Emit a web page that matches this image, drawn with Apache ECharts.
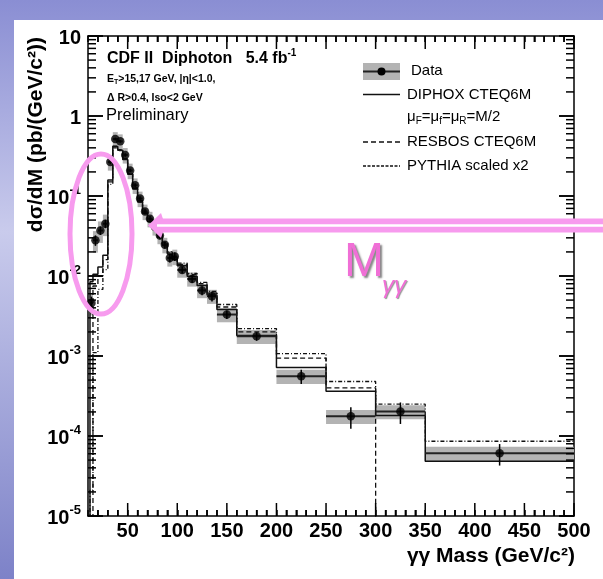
<!DOCTYPE html>
<html>
<head>
<meta charset="utf-8">
<script src="https://cdn.jsdelivr.net/npm/echarts@6/dist/echarts.min.js"></script>
<style>
  html, body { margin: 0; padding: 0; }
  #slide {
    position: relative; width: 603px; height: 579px; overflow: hidden;
    background: linear-gradient(180deg, #8a8ed3 0%, #c9cbec 40%, #7d82c8 100%);
  }
  #panel { position: absolute; left: 14px; top: 20px; right: 0; bottom: 0; background: #fff; }
  #chart { position: absolute; left: 0; top: 0; width: 603px; height: 579px; }
</style>
</head>
<body>
<div id="slide"><div id="panel"></div><div id="chart"></div></div>
<script>
// bin edges (GeV/c^2)
const binEdges = [12, 15, 20, 25, 30, 35, 40, 45, 50, 55, 60, 65, 70, 75, 80, 85, 90, 95, 100,
  110, 120, 130, 140, 160, 200, 250, 300, 350, 500];
// measured dsigma/dM (pb/(GeV/c^2))
const dataVals = [0.0046, 0.028, 0.037, 0.045, 0.266, 0.515, 0.483, 0.326, 0.208, 0.136, 0.093,
  0.064, 0.052, 0.041, 0.032, 0.0246, 0.0168, 0.0175, 0.0119, 0.0092, 0.0066, 0.0056, 0.0033,
  0.00176, 5.6e-4, 1.76e-4, 2.02e-4, 6.1e-5];
// relative statistical and systematic uncertainties
const statErr = [0.2, 0.15, 0.12, 0.12, 0.06, 0.04, 0.04, 0.05, 0.05, 0.06, 0.07, 0.08, 0.08,
  0.09, 0.1, 0.1, 0.12, 0.12, 0.1, 0.11, 0.13, 0.14, 0.12, 0.12, 0.2, 0.3, 0.3, 0.3];
const sysErr = [0.3, 0.3, 0.3, 0.3, 0.22, 0.22, 0.22, 0.22, 0.22, 0.22, 0.22, 0.22, 0.22, 0.22,
  0.22, 0.22, 0.22, 0.22, 0.2, 0.2, 0.2, 0.2, 0.2, 0.2, 0.2, 0.2, 0.2, 0.2];
// predictions
const diphox = [0.0085, 0.0105, 0.013, 0.0182, 0.159, 0.416, 0.374, 0.286, 0.187, 0.122, 0.084,
  0.061, 0.048, 0.039, 0.0305, 0.0241, 0.0188, 0.0161, 0.0134, 0.0099, 0.0076, 0.0058, 0.0038,
  0.0018, 7.2e-4, 3.63e-4, 1.81e-4, 4.85e-5];
const resbos = [0, 0.0075, 0.01, 0.016, 0.15, 0.42, 0.38, 0.29, 0.19, 0.125, 0.087, 0.063, 0.05,
  0.041, 0.032, 0.025, 0.0195, 0.0168, 0.014, 0.0104, 0.008, 0.0061, 0.0041, 0.002, 9.4e-4,
  4.0e-4, 0, 0];
const pythia = [2.1e-5, 0.0011, 0.0068, 0.012, 0.14, 0.40, 0.37, 0.29, 0.19, 0.126, 0.088, 0.065,
  0.051, 0.042, 0.033, 0.026, 0.02, 0.0172, 0.0145, 0.0108, 0.0083, 0.0064, 0.0044, 0.0022,
  1.07e-3, 4.8e-4, 2.5e-4, 8.6e-5];
// axis ticks
const xMajor = [50, 100, 150, 200, 250, 300, 350, 400, 450, 500];
const xMinor = [];
for (let v = 20; v < 500; v += 10) if (v % 50 !== 0) xMinor.push(v);
const yMajor = [1e-5, 1e-4, 1e-3, 1e-2, 1e-1, 1, 10];
const yMinor = [];
for (let k = -5; k <= 0; k++) {
  for (let m = 2; m <= 9; m++) yMinor.push(m * Math.pow(10, k));
}

const FLOOR = 1e-9; // below the axis: drawn lines fall off the bottom

function histPoints(vals) {
  const pts = [[binEdges[0], FLOOR]];
  vals.forEach((v, i) => pts.push([binEdges[i], v > 0 ? v : FLOOR]));
  const last = vals[vals.length - 1];
  pts.push([binEdges[binEdges.length - 1], last > 0 ? last : FLOOR]);
  return pts;
}

const binRows = dataVals.map((v, i) => [binEdges[i], binEdges[i + 1], v, statErr[i], sysErr[i]]);
const points = dataVals.map((v, i) => [(binEdges[i] + binEdges[i + 1]) / 2, v]);
// ROOT style ticks on all four sides: [x, y, length]
const xTickRows = xMajor.map((v) => [v, 1, 13]).concat(xMinor.map((v) => [v, 1, 6]));
const yTickRows = yMajor.map((v) => [100, v, 15]).concat(yMinor.map((v) => [100, v, 8]));

const chart = echarts.init(document.getElementById("chart"));

const font = "Liberation Sans";
const pink = "#f79bee";
const tickStyle = { stroke: "#000", lineWidth: 1.5 };

function xAx(position, labels) {
  return {
    type: "value", min: 10, max: 500, interval: 10, position: position,
    axisLine: { show: true, onZero: false, lineStyle: { color: "#000", width: 1.5 } },
    splitLine: { show: false },
    axisTick: { show: true, inside: true, length: 6, lineStyle: { color: "#000", width: 1.5 } },
    axisLabel: labels ? {
      show: true, customValues: xMajor, margin: 5, color: "#000",
      fontFamily: font, fontWeight: "bold", fontSize: 20
    } : { show: false }
  };
}
function yAx(position, labels) {
  return {
    type: "log", logBase: 10, min: 1e-5, max: 10, position: position,
    axisLine: { show: true, onZero: false, lineStyle: { color: "#000", width: 1.5 } },
    splitLine: { show: false },
    axisTick: { show: true, inside: true, length: 15, lineStyle: { color: "#000", width: 1.5 } },
    axisLabel: labels ? {
      show: true, customValues: yMajor, margin: 7, color: "#000",
      formatter: (v) => {
        const e = Math.round(Math.log10(v));
        if (e === 0) return "{b|1}";
        if (e === 1) return "{b|10}";
        return "{b|10}{s|" + e + "}";
      },
      rich: {
        b: { fontFamily: font, fontWeight: "bold", fontSize: 20, lineHeight: 24, verticalAlign: "bottom" },
        s: { fontFamily: font, fontWeight: "bold", fontSize: 13, lineHeight: 24, verticalAlign: "top" }
      }
    } : { show: false }
  };
}

chart.setOption({
  animation: false,
  grid: { left: 88, right: 29, top: 36, bottom: 63 },
  xAxis: [xAx("bottom", true), xAx("top", false)],
  yAxis: [yAx("left", true), yAx("right", false)],
  series: [
    {
      name: "Data syst", type: "custom", z: 1, clip: true,
      data: binRows,
      renderItem: (params, api) => {
        const lo = api.value(0), hi = api.value(1), v = api.value(2), s = api.value(4);
        const a = api.coord([lo, v * (1 + s)]);
        const b = api.coord([hi, v * (1 - s)]);
        return {
          type: "rect",
          shape: { x: a[0], y: a[1], width: b[0] - a[0], height: b[1] - a[1] },
          style: { fill: "#b3b3b3" }
        };
      }
    },
    {
      name: "DIPHOX CTEQ6M", type: "line", step: "end", z: 3, clip: true,
      symbol: "none", data: histPoints(diphox),
      lineStyle: { color: "#111", width: 1.5 }
    },
    {
      name: "RESBOS CTEQ6M", type: "line", step: "end", z: 3, clip: true,
      symbol: "none", data: histPoints(resbos),
      lineStyle: { color: "#111", width: 1.3, type: [5, 3] }
    },
    {
      name: "PYTHIA scaled x2", type: "line", step: "end", z: 3, clip: true,
      symbol: "none", data: histPoints(pythia),
      lineStyle: { color: "#111", width: 1.3, type: [4, 2, 1, 2] }
    },
    {
      name: "Data bars", type: "custom", z: 4, clip: true,
      data: binRows,
      renderItem: (params, api) => {
        const lo = api.value(0), hi = api.value(1), v = api.value(2), e = api.value(3);
        const c = (lo + hi) / 2;
        const l = api.coord([lo, v]), r = api.coord([hi, v]);
        const up = api.coord([c, v * (1 + e)]), dn = api.coord([c, v * (1 - e)]);
        return {
          type: "group",
          children: [
            { type: "line", shape: { x1: l[0], y1: l[1], x2: r[0], y2: r[1] }, style: { stroke: "#222", lineWidth: 2 } },
            { type: "line", shape: { x1: up[0], y1: up[1], x2: dn[0], y2: dn[1] }, style: { stroke: "#000", lineWidth: 1.5 } }
          ]
        };
      }
    },
    {
      name: "Data", type: "scatter", z: 5, clip: true,
      data: points, symbol: "circle", symbolSize: 8.5,
      itemStyle: { color: "#000" }
    },
    {
      name: "x ticks", type: "custom", z: 6, clip: false, silent: true,
      data: xTickRows, encode: { x: 0, y: 1 },
      renderItem: (params, api) => {
        const px = api.coord([api.value(0), api.value(1)])[0];
        const len = api.value(2);
        const cs = params.coordSys;
        const yb = cs.y + cs.height;
        return {
          type: "group", children: [
            { type: "line", shape: { x1: px, y1: yb, x2: px, y2: yb - len }, style: Object.assign({}, tickStyle) },
            { type: "line", shape: { x1: px, y1: cs.y, x2: px, y2: cs.y + len }, style: Object.assign({}, tickStyle) }
          ]
        };
      }
    },
    {
      name: "y ticks", type: "custom", z: 6, clip: false, silent: true,
      data: yTickRows, encode: { x: 0, y: 1 },
      renderItem: (params, api) => {
        const py = api.coord([api.value(0), api.value(1)])[1];
        const len = api.value(2);
        const cs = params.coordSys;
        const xr = cs.x + cs.width;
        return {
          type: "group", children: [
            { type: "line", shape: { x1: cs.x, y1: py, x2: cs.x + len, y2: py }, style: Object.assign({}, tickStyle) },
            { type: "line", shape: { x1: xr, y1: py, x2: xr - len, y2: py }, style: Object.assign({}, tickStyle) }
          ]
        };
      }
    }
  ],
  graphic: [
    // axis titles
    {
      type: "text", x: 36, y: 37, rotation: Math.PI / 2, z: 10,
      style: { text: "dσ/dM (pb/(GeV/c²))", align: "right", verticalAlign: "middle",
        font: "bold 21px " + font, fill: "#000" }
    },
    {
      type: "text", x: 575, y: 556, z: 10,
      style: { text: "γγ Mass (GeV/c²)", align: "right", verticalAlign: "middle",
        font: "bold 21px " + font, fill: "#000" }
    },
    // header texts
    {
      type: "text", x: 107, y: 59, z: 10,
      style: { text: "CDF II  Diphoton   5.4 fb{s|-1}", verticalAlign: "middle", font: "bold 16px " + font, fill: "#000",
        rich: { s: { font: "bold 10px " + font, verticalAlign: "top", padding: [0, 0, 12, 0] } } }
    },
    {
      type: "text", x: 107, y: 79, z: 10,
      style: { text: "E{s|T}>15,17 GeV, |η|<1.0,", verticalAlign: "middle", font: "bold 10.5px " + font, fill: "#000",
        rich: { s: { font: "bold 7px " + font, verticalAlign: "bottom", padding: [6, 0, 0, 0] } } }
    },
    {
      type: "text", x: 107, y: 98, z: 10,
      style: { text: "Δ R>0.4, Iso<2 GeV", verticalAlign: "middle", font: "bold 10.5px " + font, fill: "#000" }
    },
    {
      type: "text", x: 106, y: 115, z: 10,
      style: { text: "Preliminary", verticalAlign: "middle", font: "16.5px " + font, fill: "#000" }
    },
    // legend
    { type: "rect", z: 10, shape: { x: 363, y: 63, width: 37, height: 17 }, style: { fill: "#b3b3b3" } },
    { type: "line", z: 11, shape: { x1: 363, y1: 71.5, x2: 400, y2: 71.5 }, style: { stroke: "#222", lineWidth: 2 } },
    { type: "circle", z: 12, shape: { cx: 381.5, cy: 71.5, r: 4 }, style: { fill: "#000" } },
    { type: "text", x: 411, y: 71, z: 10, style: { text: "Data", verticalAlign: "middle", font: "15px " + font, fill: "#000" } },
    { type: "line", z: 10, shape: { x1: 363, y1: 94.5, x2: 400, y2: 94.5 }, style: { stroke: "#111", lineWidth: 1.5 } },
    { type: "text", x: 407, y: 94.5, z: 10, style: { text: "DIPHOX CTEQ6M", verticalAlign: "middle", font: "15px " + font, fill: "#000" } },
    {
      type: "text", x: 407, y: 117, z: 10,
      style: { text: "μ{s|F}=μ{s|f}=μ{s|R}=M/2", verticalAlign: "middle", font: "15px " + font, fill: "#000",
        rich: { s: { font: "10px " + font, verticalAlign: "bottom", padding: [8, 0, 0, 0] } } }
    },
    { type: "line", z: 10, shape: { x1: 363, y1: 142, x2: 400, y2: 142 }, style: { stroke: "#111", lineWidth: 1.3, lineDash: [5, 3] } },
    { type: "text", x: 407, y: 142, z: 10, style: { text: "RESBOS CTEQ6M", verticalAlign: "middle", font: "15px " + font, fill: "#000" } },
    { type: "line", z: 10, shape: { x1: 363, y1: 166, x2: 400, y2: 166 }, style: { stroke: "#111", lineWidth: 1.3, lineDash: [3, 1.5] } },
    { type: "text", x: 407, y: 166, z: 10, style: { text: "PYTHIA scaled x2", verticalAlign: "middle", font: "15px " + font, fill: "#000" } },
    // slide annotations
    { type: "ellipse", z: 20, shape: { cx: 101, cy: 234, rx: 31, ry: 80 }, style: { fill: "none", stroke: pink, lineWidth: 5 } },
    { type: "rect", z: 20, shape: { x: 156, y: 218.5, width: 460, height: 14 }, style: { fill: pink } },
    { type: "polygon", z: 20, shape: { points: [[148, 225.5], [161, 213], [163, 219], [163, 232], [161, 238]] }, style: { fill: pink } },
    { type: "line", z: 21, shape: { x1: 157, y1: 225.5, x2: 603, y2: 225.5 }, style: { stroke: "#fff", lineWidth: 2.5 } },
    {
      type: "text", x: 344, y: 263, z: 20,
      style: { text: "M", verticalAlign: "middle", font: "48px " + font, fill: "#f06fd6",
        textShadowColor: "rgba(80,80,80,0.7)", textShadowOffsetX: 2, textShadowOffsetY: 2, textShadowBlur: 2 }
    },
    {
      type: "text", x: 382, y: 286, z: 20,
      style: { text: "γγ", verticalAlign: "middle", font: "italic 24px " + font, fill: "#f06fd6",
        textShadowColor: "rgba(80,80,80,0.6)", textShadowOffsetX: 1, textShadowOffsetY: 1, textShadowBlur: 1 }
    }
  ]
});
</script>
</body>
</html>
